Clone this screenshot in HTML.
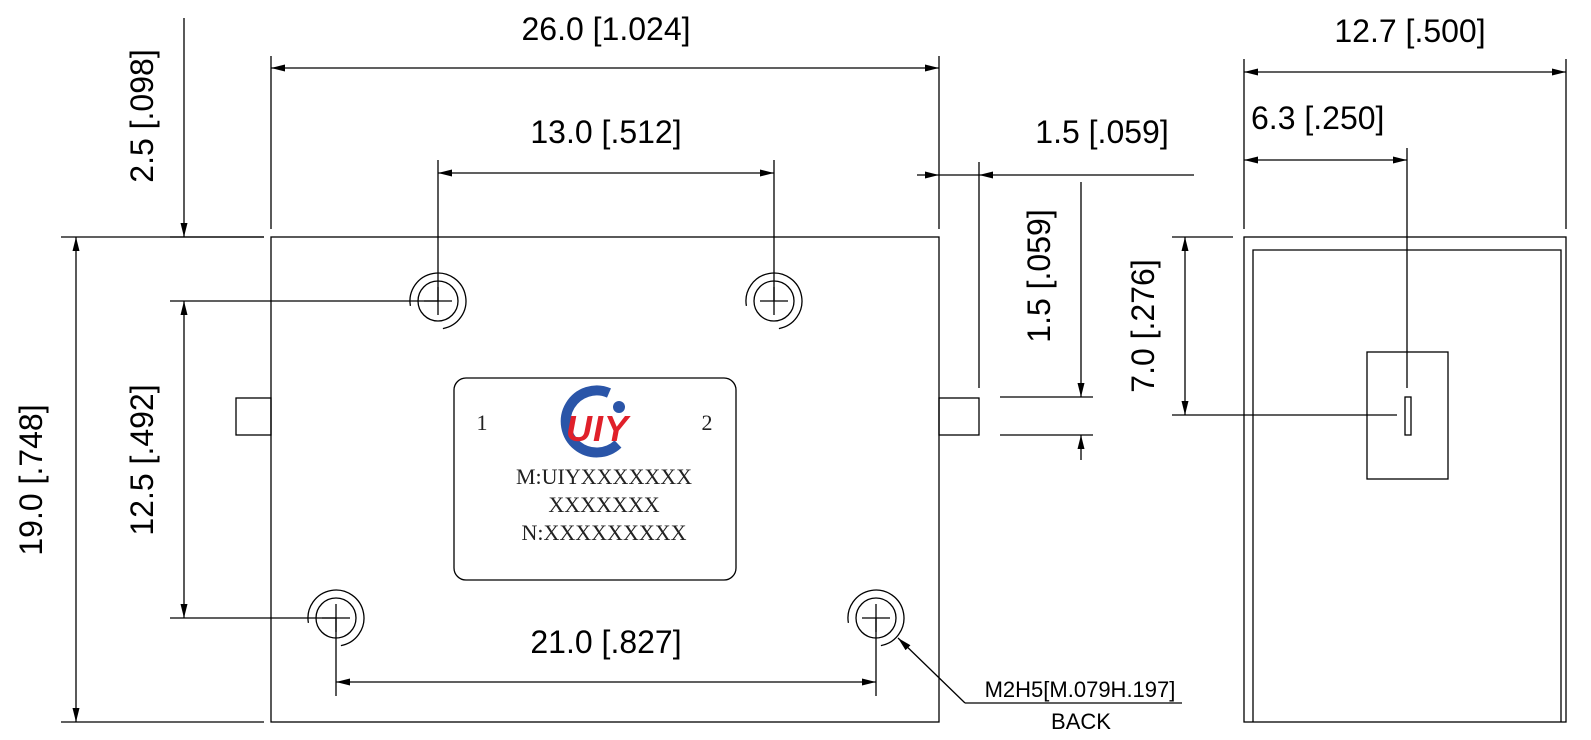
<!DOCTYPE html>
<html><head><meta charset="utf-8"><style>
html,body{margin:0;padding:0;background:#fff;}
svg{display:block;}
.t{font-family:"Liberation Sans",Arial,sans-serif;font-size:32px;fill:#000;}
.s{font-family:"Liberation Serif","Noto Serif CJK SC",serif;font-size:22px;fill:#222;}
</style></head><body>
<svg width="1591" height="740" viewBox="0 0 1591 740" xmlns="http://www.w3.org/2000/svg">
<defs>
<marker id="a" viewBox="0 0 14 7" refX="14" refY="3.5" markerWidth="14" markerHeight="7" markerUnits="userSpaceOnUse" orient="auto-start-reverse">
<path d="M0,0 L14,3.5 L0,7 z" fill="#000"/></marker>
</defs>
<g stroke="#000" stroke-width="1.3" fill="none">
<rect x="271" y="237" width="668" height="485"/>
<rect x="236" y="398" width="35" height="37"/>
<rect x="939" y="398" width="40" height="37"/>
<line x1="271" y1="56" x2="271" y2="229"/>
<line x1="939" y1="56" x2="939" y2="229"/>
<line x1="271" y1="68" x2="939" y2="68" marker-start="url(#a)" marker-end="url(#a)"/>
<line x1="438" y1="160" x2="438" y2="301"/>
<line x1="774" y1="160" x2="774" y2="301"/>
<line x1="438" y1="173" x2="774" y2="173" marker-start="url(#a)" marker-end="url(#a)"/>
<line x1="170" y1="237" x2="264" y2="237"/>
<line x1="170" y1="301" x2="438" y2="301"/>
<line x1="170" y1="618" x2="336" y2="618"/>
<line x1="184" y1="18" x2="184" y2="237" marker-end="url(#a)"/>
<line x1="184" y1="301" x2="184" y2="618" marker-start="url(#a)" marker-end="url(#a)"/>
<line x1="61" y1="237" x2="264" y2="237"/>
<line x1="61" y1="722" x2="264" y2="722"/>
<line x1="76" y1="237" x2="76" y2="722" marker-start="url(#a)" marker-end="url(#a)"/>
<line x1="336" y1="618" x2="336" y2="696"/>
<line x1="876" y1="618" x2="876" y2="696"/>
<line x1="336" y1="682" x2="876" y2="682" marker-start="url(#a)" marker-end="url(#a)"/>
<line x1="979" y1="162" x2="979" y2="388"/>
<line x1="917" y1="175" x2="939" y2="175" marker-end="url(#a)"/>
<line x1="939" y1="175" x2="979" y2="175"/>
<line x1="1194" y1="175" x2="979" y2="175" marker-end="url(#a)"/>
<line x1="1000" y1="397" x2="1093" y2="397"/>
<line x1="1000" y1="435" x2="1093" y2="435"/>
<line x1="1081" y1="182" x2="1081" y2="397" marker-end="url(#a)"/>
<line x1="1081" y1="460" x2="1081" y2="435" marker-end="url(#a)"/>
<g>
<circle cx="438" cy="301" r="20"/>
<path d="M410.4,305.9 A28,28 0 1 1 442.9,328.6"/>
<line x1="424" y1="301" x2="452" y2="301"/>
<line x1="438" y1="287" x2="438" y2="315"/>
</g>
<g>
<circle cx="774" cy="301" r="20"/>
<path d="M746.4,305.9 A28,28 0 1 1 778.9,328.6"/>
<line x1="760" y1="301" x2="788" y2="301"/>
<line x1="774" y1="287" x2="774" y2="315"/>
</g>
<g>
<circle cx="336" cy="618" r="20"/>
<path d="M308.4,622.9 A28,28 0 1 1 340.9,645.6"/>
<line x1="322" y1="618" x2="350" y2="618"/>
<line x1="336" y1="604" x2="336" y2="632"/>
</g>
<g>
<circle cx="876" cy="618" r="20"/>
<path d="M848.4,622.9 A28,28 0 1 1 880.9,645.6"/>
<line x1="862" y1="618" x2="890" y2="618"/>
<line x1="876" y1="604" x2="876" y2="632"/>
</g>
<line x1="965" y1="703" x2="898" y2="638" marker-end="url(#a)"/>
<line x1="965" y1="703" x2="1182" y2="703"/>
<rect x="454" y="378" width="282" height="202" rx="12"/>
<rect x="1244" y="237" width="322" height="485"/>
<polyline points="1253,722 1253,250 1561,250 1561,722"/>
<rect x="1367" y="352" width="81" height="127"/>
<rect x="1405" y="397" width="6" height="38"/>
<line x1="1244" y1="59" x2="1244" y2="229"/>
<line x1="1566" y1="59" x2="1566" y2="229"/>
<line x1="1244" y1="72" x2="1566" y2="72" marker-start="url(#a)" marker-end="url(#a)"/>
<line x1="1407" y1="148" x2="1407" y2="388"/>
<line x1="1244" y1="160" x2="1407" y2="160" marker-start="url(#a)" marker-end="url(#a)"/>
<line x1="1172" y1="237" x2="1233" y2="237"/>
<line x1="1172" y1="415" x2="1397" y2="415"/>
<line x1="1185" y1="237" x2="1185" y2="415" marker-start="url(#a)" marker-end="url(#a)"/>
</g>
<!-- logo -->
<path d="M609,393 A31,31 0 1 0 618,444" fill="none" stroke="#2a55a8" stroke-width="10"/>
<circle cx="619" cy="407" r="6" fill="#2a55a8"/>
<text x="566" y="441" font-family="Liberation Sans,sans-serif" font-weight="bold" font-style="italic" font-size="36" fill="#e0202a" letter-spacing="1">UIY</text>
<text class="s" x="482" y="430" text-anchor="middle">1</text>
<text class="s" x="707" y="430" text-anchor="middle">2</text>
<text class="s" x="604" y="484" text-anchor="middle">M:UIYXXXXXXX</text>
<text class="s" x="604" y="512" text-anchor="middle">XXXXXXX</text>
<text class="s" x="604" y="540" text-anchor="middle">N:XXXXXXXXX</text>
<text class="t" x="606" y="40" text-anchor="middle">26.0 [1.024]</text>
<text class="t" x="606" y="143" text-anchor="middle">13.0 [.512]</text>
<text class="t" x="606" y="653" text-anchor="middle">21.0 [.827]</text>
<text class="t" x="1102" y="143" text-anchor="middle">1.5 [.059]</text>
<text class="t" x="1410" y="42" text-anchor="middle">12.7 [.500]</text>
<text class="t" x="1251" y="129">6.3 [.250]</text>
<text class="t" transform="translate(153,116) rotate(-90)" text-anchor="middle">2.5 [.098]</text>
<text class="t" transform="translate(153,460) rotate(-90)" text-anchor="middle">12.5 [.492]</text>
<text class="t" transform="translate(42,480) rotate(-90)" text-anchor="middle">19.0 [.748]</text>
<text class="t" transform="translate(1050,276) rotate(-90)" text-anchor="middle">1.5 [.059]</text>
<text class="t" transform="translate(1154,326) rotate(-90)" text-anchor="middle">7.0 [.276]</text>
<text x="1080" y="697" text-anchor="middle" font-family="Liberation Sans,sans-serif" font-size="22">M2H5[M.079H.197]</text>
<text x="1081" y="729" text-anchor="middle" font-family="Liberation Sans,sans-serif" font-size="22">BACK</text>
</svg>
</body></html>
